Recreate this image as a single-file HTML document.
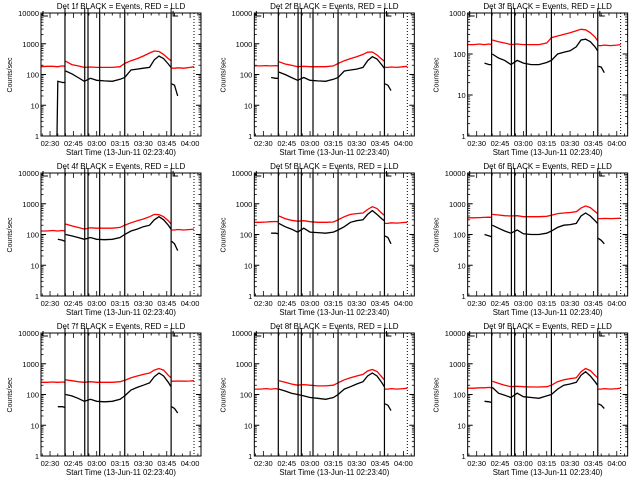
<!DOCTYPE html>
<html><head><meta charset="utf-8"><style>
html,body{margin:0;padding:0;background:#fff;}
svg{display:block;font-family:"Liberation Sans",sans-serif;}
</style></head><body>
<svg id="chart" width="640" height="480" viewBox="0 0 640 480" xmlns="http://www.w3.org/2000/svg"></svg>
<script>
// minutes relative to 02:30
const times = [-6,-2,2,4.5,5,8,9.5,10,14,18,22,26,30,35,40,45,48,52,56,60,64,67,70,73,76,77.7,78.1,80,82,86,90,92.5];
const breakAfter = [6,25];
const xTickLabels = ["02:30","02:45","03:00","03:15","03:30","03:45","04:00"];
const xTickMinutes = [0,15,30,45,60,75,90];
const eventLines = [9.6,22.3,24.4,31.9,48,77.8];
const dottedLine = [92.5];
const detNames = ["1f","2f","3f","4f","5f","6f","7f","8f","9f"];
const yDecades = [4,4,3,4,4,4,4,4,4];
const red1 = [180,185,185,180,180,190,185,270,210,190,170,175,170,170,170,180,230,280,330,400,500,580,560,450,330,280,160,160,165,160,170,180];
const blk1 = [null,null,null,1,60,55,55,130,105,80,60,75,65,62,60,70,80,140,150,160,170,300,400,330,220,170,50,45,20,null,null,null];
const red2 = [190,190,195,190,190,195,190,260,220,200,180,185,180,180,180,190,230,280,330,380,450,530,540,430,320,270,170,170,175,170,180,185];
const blk2 = [null,null,null,null,80,75,75,120,100,80,65,80,65,62,60,70,80,130,140,150,170,280,380,320,210,160,50,45,30,null,null,null];
const red3 = [170,170,175,170,170,175,170,220,200,185,170,175,170,170,170,185,250,275,300,330,370,400,390,330,260,210,160,160,165,160,165,170];
const blk3 = [null,null,null,null,60,55,55,100,80,70,55,70,60,55,55,62,70,100,110,120,150,220,230,200,150,120,50,48,35,null,null,null];
const red4 = [130,130,135,130,130,135,130,220,190,170,150,165,160,160,160,170,200,240,280,320,380,450,440,380,280,220,140,140,145,140,145,150];
const blk4 = [null,null,null,null,70,65,60,100,90,80,70,80,70,68,70,80,100,130,150,180,200,300,380,300,200,150,60,50,30,null,null,null];
const red5 = [250,250,255,260,260,265,260,400,330,290,270,280,260,250,250,255,300,380,450,480,500,650,800,700,500,420,230,230,240,235,245,250];
const blk5 = [null,null,null,null,110,110,105,230,180,150,120,160,120,115,110,120,140,180,250,280,300,450,600,450,330,280,90,80,50,null,null,null];
const red6 = [350,350,355,360,360,365,360,450,430,410,400,410,380,380,380,390,420,480,500,520,550,720,850,750,560,480,330,330,335,330,335,340];
const blk6 = [null,null,null,null,100,90,85,200,160,130,110,140,105,100,100,110,130,170,200,210,230,400,500,400,280,230,75,65,50,null,null,null];
const red7 = [250,250,255,250,250,255,250,300,280,260,250,260,250,250,250,260,290,350,400,450,500,620,700,620,420,350,270,270,275,270,275,280];
const blk7 = [null,null,null,null,40,40,38,100,90,75,60,70,60,58,60,70,90,140,170,200,240,380,500,400,250,180,40,35,25,null,null,null];
const red8 = [150,150,155,150,150,155,150,280,250,220,200,210,200,190,190,200,240,300,350,400,450,580,650,560,380,300,150,150,155,150,155,160];
const blk8 = [null,null,null,null,null,null,null,150,130,110,100,90,80,75,70,80,100,150,180,220,260,400,500,400,250,180,50,45,30,null,null,null];
const red9 = [160,160,165,165,165,170,165,270,230,200,180,185,180,175,175,180,200,260,300,330,350,550,700,600,420,350,150,150,155,150,155,160];
const blk9 = [null,null,null,null,60,58,55,170,110,95,80,110,85,80,75,90,100,150,200,220,250,420,550,400,260,200,50,45,35,null,null,null];
const redSeries = [red1,red2,red3,red4,red5,red6,red7,red8,red9];
const blkSeries = [blk1,blk2,blk3,blk4,blk5,blk6,blk7,blk8,blk9];

const NS="http://www.w3.org/2000/svg";
const svg=document.getElementById('chart');
function mk(tag,attrs,parent){const e=document.createElementNS(NS,tag);for(const k in attrs)e.setAttribute(k,attrs[k]);(parent||svg).appendChild(e);return e;}
const T0=-5.8,T1=97;
for(let p=0;p<9;p++){
  const col=p%3,row=Math.floor(p/3);
  const ox=col*213.33,oy=row*160;
  const L=ox+41,R=ox+201,Tp=oy+13,B=oy+136;
  const dec=yDecades[p];
  const xS=t=>L+(t-T0)/(T1-T0)*(R-L);
  const yS=v=>B-Math.log10(Math.max(v,1))/dec*(B-Tp);
  const g=mk('g',{});
  
  
  const tt=mk('text',{x:ox+121,y:oy+9,'font-size':'8','text-anchor':'middle'},g);
  tt.textContent='Det '+detNames[p]+' BLACK = Events, RED = LLD';
  
  
  for(let d=0;d<=dec;d++){
    const y=yS(Math.pow(10,d));
    mk('line',{x1:L,x2:L+5,y1:y,y2:y,stroke:'#000','stroke-width':1},g);
    mk('line',{x1:R,x2:R-5,y1:y,y2:y,stroke:'#000','stroke-width':1},g);
    const lb=mk('text',{x:L-2,y:y+3,'font-size':'7.5','text-anchor':'end'},g);
    lb.textContent=String(Math.pow(10,d));
    
    
    if(d<dec){for(let m=2;m<=9;m++){const ym=yS(m*Math.pow(10,d));
      mk('line',{x1:L,x2:L+2.5,y1:ym,y2:ym,stroke:'#000','stroke-width':0.8},g);
      mk('line',{x1:R,x2:R-2.5,y1:ym,y2:ym,stroke:'#000','stroke-width':0.8},g);}}
  }
  for(let m=-5;m<=95;m+=5){const x=xS(m);const major=(m%15===0);const len=major?5:2.5;
    mk('line',{x1:x,x2:x,y1:B,y2:B-len,stroke:'#000','stroke-width':0.8},g);
    mk('line',{x1:x,x2:x,y1:Tp,y2:Tp+len,stroke:'#000','stroke-width':0.8},g);}
  xTickMinutes.forEach((m,i)=>{const lb=mk('text',{x:xS(m),y:B+10,'font-size':'7.5','text-anchor':'middle'},g);
    lb.textContent=xTickLabels[i];
    
    });
  const xt=mk('text',{x:ox+121,y:B+19,'font-size':'7.8','text-anchor':'middle'},g);
  xt.textContent='Start Time (13-Jun-11 02:23:40)';
  
  
  const yt=mk('text',{x:0,y:0,'font-size':'7','text-anchor':'middle',transform:`translate(${ox+12},${oy+75}) rotate(-90)`},g);
  yt.textContent='Counts/sec';
  
  
  function drawSeries(vals,color,name){
    let d='',pen=false;
    for(let i=0;i<times.length;i++){
      const v=vals[i];
      if(v===null){pen=false;continue;}
      d+=(pen?'L':'M')+xS(times[i]).toFixed(1)+' '+yS(v).toFixed(1)+' ';
      pen=!breakAfter.includes(i);
    }
    const pth=mk('path',{d:d,fill:'none',stroke:color,'stroke-width':1.3},g);
    
    
  }
  drawSeries(redSeries[p],'#ff0000','lld-series-red');
  drawSeries(blkSeries[p],'#000000','events-series-black');
  eventLines.forEach(t=>{const x=xS(t);
    const ln=mk('line',{x1:x,x2:x,y1:Tp,y2:B,stroke:'#000','stroke-width':1.2},g);
    
    
    mk('line',{x1:x,x2:x,y1:Tp-5,y2:Tp,stroke:'#000','stroke-width':1},g);});
  dottedLine.forEach(t=>{const x=xS(t);
    const ln=mk('line',{x1:x,x2:x,y1:Tp,y2:B,stroke:'#000','stroke-width':1,'stroke-dasharray':'1,2'},g);
    
    });
  [L+2,xS(77.8)+2].forEach(x=>{mk('path',{d:`M${x} ${Tp-2} L${x} ${Tp+3} L${x+5} ${Tp+3}`,fill:'none',stroke:'#000','stroke-width':1},g);});
  const fr=mk('rect',{x:L,y:Tp,width:R-L,height:B-Tp,fill:'none',stroke:'#000','stroke-width':1},g);
  
  
}
</script>
</body></html>
